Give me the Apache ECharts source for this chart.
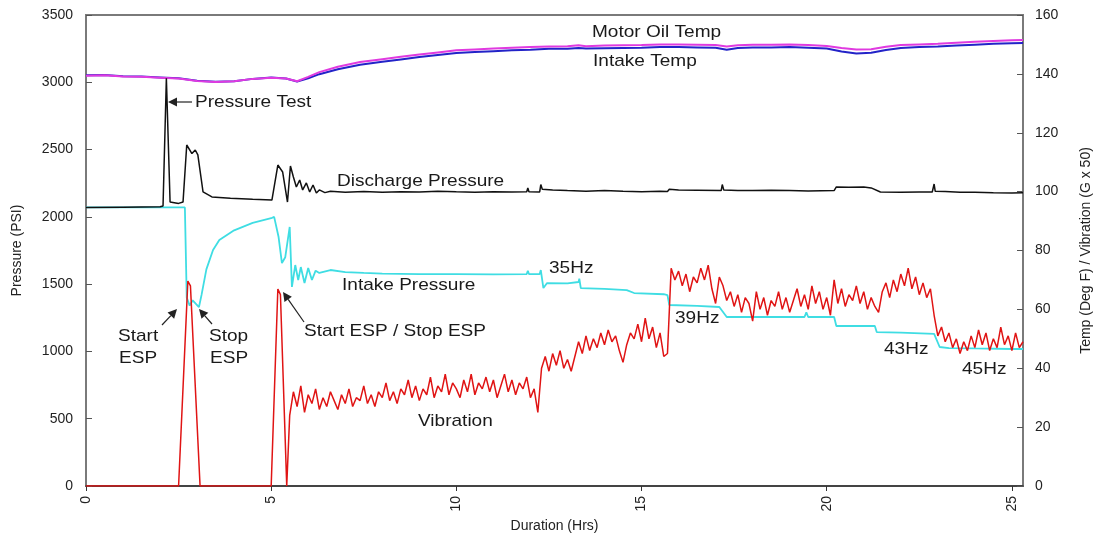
<!DOCTYPE html>
<html><head><meta charset="utf-8">
<script src="https://cdn.jsdelivr.net/npm/echarts@6/dist/echarts.min.js"></script>
<style>html,body{margin:0;padding:0;background:#fff}#c{width:1099px;height:533px}</style>
</head><body><div id="c"></div>
<script>
// ---- data (hours, value) ----
const motorOilTemp = [[0,139.4],[0.5,139.5],[1,139.1],[1.5,139.0],[2,138.7],[2.5,138.4],[3,137.6],[3.5,137.2],[4,137.5],[4.5,138.3],[5,138.7],[5.4,138.4],[5.7,137.5],[6,139.0],[6.3,140.6],[6.8,142.4],[7.4,144.0],[8,145.0],[8.5,145.8],[9,146.6],[9.5,147.3],[10,148.0],[10.5,148.3],[11,148.6],[11.5,148.9],[12,149.1],[12.5,149.3],[13,149.4],[13.3,149.7],[13.5,149.4],[14,149.6],[14.5,149.7],[15,149.8],[15.5,150.0],[16,150.0],[16.5,149.9],[17,149.8],[17.3,149.3],[17.6,149.7],[18,149.9],[18.5,149.9],[19,150.0],[19.5,149.8],[20,149.5],[20.4,148.8],[20.8,148.3],[21.2,148.4],[21.6,149.2],[22,149.8],[22.5,150.0],[23,150.2],[23.5,150.6],[24,150.9],[24.5,151.2],[25,151.4],[25.3,151.5]];
const intakeTemp = [[0,139.5],[0.5,139.6],[1,139.2],[1.5,139.1],[2,138.8],[2.5,138.5],[3,137.7],[3.5,137.3],[4,137.5],[4.5,138.3],[5,138.8],[5.4,138.4],[5.7,137.4],[6,138.5],[6.3,139.9],[6.8,141.6],[7.4,143.1],[8,144.1],[8.5,144.9],[9,145.7],[9.5,146.4],[10,147.1],[10.5,147.4],[11,147.7],[11.5,148.0],[12,148.2],[12.5,148.5],[13,148.5],[13.3,148.8],[13.5,148.6],[14,148.7],[14.5,148.8],[15,148.9],[15.5,149.1],[16,149.1],[16.5,149.0],[17,148.9],[17.3,148.2],[17.6,148.8],[18,149.0],[18.5,149.0],[19,149.1],[19.5,148.9],[20,148.6],[20.4,147.6],[20.8,146.9],[21.2,147.2],[21.6,148.1],[22,148.8],[22.5,149.1],[23,149.3],[23.5,149.6],[24,149.9],[24.5,150.2],[25,150.4],[25.3,150.5]];
const dischargePressure = [[0,2070],[1,2072],[2.0,2075],[2.08,2080],[2.17,3030],[2.27,2110],[2.5,2100],[2.62,2110],[2.72,2534],[2.86,2470],[2.95,2497],[3.02,2460],[3.16,2185],[3.4,2148],[3.9,2138],[4.5,2130],[5.02,2125],[5.18,2385],[5.31,2333],[5.44,2110],[5.52,2378],[5.6,2296],[5.68,2222],[5.77,2274],[5.85,2200],[5.95,2252],[6.04,2185],[6.13,2237],[6.22,2177],[6.3,2200],[6.45,2180],[6.6,2190],[7,2183],[7.5,2188],[8,2182],[8.5,2186],[9,2184],[9.5,2190],[10,2186],[10.5,2183],[11,2187],[11.5,2185],[11.9,2186],[11.93,2215],[11.96,2186],[12.25,2185],[12.28,2240],[12.32,2205],[12.6,2200],[13,2195],[13.5,2190],[14,2195],[14.5,2190],[15,2186],[15.5,2190],[15.7,2188],[15.75,2205],[16,2200],[16.5,2198],[17.15,2195],[17.18,2240],[17.22,2200],[17.6,2195],[18,2195],[18.5,2198],[19,2196],[19.5,2193],[20.2,2195],[20.26,2222],[20.6,2220],[21.0,2222],[21.2,2215],[21.45,2185],[22,2183],[22.5,2185],[22.85,2185],[22.9,2244],[22.93,2190],[23.2,2188],[23.6,2182],[24,2183],[24.5,2180],[25,2178],[25.3,2180]];
const intakePressure = [[0,2070],[2.67,2070],[2.72,1400],[2.8,1340],[2.88,1380],[2.98,1350],[3.05,1330],[3.12,1420],[3.25,1610],[3.43,1754],[3.6,1828],[4.0,1900],[4.5,1955],[5.0,1990],[5.08,2000],[5.2,1850],[5.29,1657],[5.38,1700],[5.5,1925],[5.56,1479],[5.65,1642],[5.73,1531],[5.8,1627],[5.9,1508],[6.0,1620],[6.1,1531],[6.2,1600],[6.3,1583],[6.6,1605],[7,1590],[7.5,1583],[8,1578],[9,1575],[10,1575],[11,1573],[11.9,1575],[11.93,1600],[11.96,1575],[12.25,1575],[12.28,1605],[12.35,1471],[12.45,1508],[13.0,1505],[13.3,1516],[13.32,1540],[13.36,1471],[14,1465],[14.6,1456],[14.8,1434],[15.6,1425],[15.7,1419],[15.75,1345],[16.5,1338],[17.1,1330],[17.3,1256],[18,1256],[19,1256],[19.4,1256],[19.45,1290],[19.5,1256],[20.2,1256],[20.26,1189],[21.3,1189],[21.35,1144],[22.0,1140],[22.9,1130],[23.05,1033],[23.3,1025],[24,1022],[25,1018],[25.3,1018]];
const vibration = [[0,0],[2.5,0],[2.75,69.6],[2.82,68],[3.08,0],[5.0,0],[5.18,66.9],[5.25,65],[5.42,0],
[5.5,24],[5.6,32],[5.7,27],[5.8,34],[5.9,25],[6.0,31],[6.1,28],[6.2,33],[6.3,26],[6.4,30],[6.5,27],[6.6,32],[6.7,29],[6.8,26],[6.9,31],[7.0,28],[7.1,33],[7.2,27],[7.3,30],[7.4,29],[7.5,34],[7.6,28],[7.7,31],[7.8,27],[7.9,32],[8.0,30],[8.1,35],[8.2,29],[8.3,32],[8.4,28],[8.5,33],[8.6,31],[8.7,36],[8.8,30],[8.9,34],[9.0,29],[9.1,33],[9.2,31],[9.3,37],[9.4,30],[9.5,34],[9.6,32],[9.7,38],[9.8,31],[9.9,35],[10.0,33],[10.1,30],[10.2,36],[10.3,32],[10.4,38],[10.5,31],[10.6,35],[10.7,33],[10.8,37],[10.9,32],[11.0,36],[11.1,30],[11.2,34],[11.3,38],[11.4,32],[11.5,36],[11.6,31],[11.7,35],[11.8,33],[11.9,37],[12.0,30],[12.1,33],[12.2,25],
[12.3,40],[12.4,44],[12.5,39],[12.6,45],[12.7,41],[12.8,46],[12.9,40],[13.0,43],[13.1,39],[13.2,44],[13.3,49],[13.4,45],[13.5,51],[13.6,46],[13.7,50],[13.8,47],[13.9,52],[14.0,48],[14.1,53],[14.2,49],[14.3,51],[14.4,46],[14.5,42],[14.6,48],[14.7,52],[14.8,50],[14.9,55],[15.0,49],[15.1,57],[15.2,50],[15.3,54],[15.4,47],[15.5,52],[15.6,44],[15.7,45],
[15.8,74],[15.9,70],[16.0,73],[16.1,68],[16.2,72],[16.3,66],[16.4,71],[16.5,69],[16.6,74],[16.7,70],[16.8,75],[16.9,67],[17.0,62],[17.1,71],[17.2,68],[17.3,63],[17.4,66],[17.5,61],[17.6,65],[17.7,59],[17.8,64],[17.9,62],[18.0,56],[18.1,66],[18.2,60],[18.3,64],[18.4,58],[18.5,63],[18.6,61],[18.7,66],[18.8,60],[18.9,64],[19.0,59],[19.1,63],[19.2,67],[19.3,61],[19.4,65],[19.5,60],[19.6,68],[19.7,62],[19.8,66],[19.9,60],[20.0,64],[20.1,58],[20.2,70],[20.3,62],[20.4,67],[20.5,61],[20.6,65],[20.7,63],[20.8,68],[20.9,62],[21.0,66],[21.1,60],[21.2,64],[21.3,61],[21.4,59],[21.5,66],[21.6,69],[21.7,64],[21.8,70],[21.9,66],[22.0,72],[22.1,68],[22.2,74],[22.3,67],[22.4,71],[22.5,65],[22.6,69],[22.7,64],[22.8,67],[22.9,58],
[23.0,51],[23.1,54],[23.2,49],[23.3,52],[23.4,47],[23.5,50],[23.6,45],[23.7,49],[23.8,46],[23.9,51],[24.0,47],[24.1,53],[24.2,48],[24.3,52],[24.4,46],[24.5,50],[24.6,47],[24.7,54],[24.8,48],[24.9,51],[25.0,46],[25.1,52],[25.2,47],[25.3,49]];

// ---- annotations (label text) ----
const labels = [
  {text:'Motor Oil Temp', x:592, y:32},
  {text:'Intake Temp', x:593, y:61},
  {text:'Pressure Test', x:195, y:102},
  {text:'Discharge Pressure', x:337, y:181},
  {text:'Intake Pressure', x:342, y:285},
  {text:'35Hz', x:549, y:268},
  {text:'39Hz', x:675, y:318},
  {text:'43Hz', x:884, y:349},
  {text:'45Hz', x:962, y:369},
  {text:'Start', x:118, y:336},
  {text:'ESP', x:119, y:358},
  {text:'Stop', x:209, y:336},
  {text:'ESP', x:210, y:358},
  {text:'Start ESP / Stop ESP', x:304, y:331},
  {text:'Vibration', x:418, y:421}
];
const arrows = [
  [192,102,168,102],
  [162,325,177,309],
  [212,324,199,309],
  [304,322,283,292]
];

function arrowEls(a){
  const [x1,y1,x2,y2]=a;
  const dx=x2-x1, dy=y2-y1, L=Math.sqrt(dx*dx+dy*dy), ux=dx/L, uy=dy/L;
  const hl=9, hw=4.5;
  const bx=x2-ux*hl, by=y2-uy*hl;
  return [
    {type:'line', shape:{x1:x1,y1:y1,x2:bx,y2:by}, style:{stroke:'#222', lineWidth:1.2}, z:100},
    {type:'polygon', shape:{points:[[x2,y2],[bx-uy*hw,by+ux*hw],[bx+uy*hw,by-ux*hw]]}, style:{fill:'#222'}, z:100}
  ];
}

const graphics = [];
labels.forEach(l=>graphics.push({type:'text', x:l.x, y:l.y, scaleX:1.12, z:100,
  style:{text:l.text, font:'17px "Liberation Sans", Arial, sans-serif', fill:'#1a1a1a', textVerticalAlign:'middle'}}));
arrows.forEach(a=>arrowEls(a).forEach(e=>graphics.push(e)));

const chart = echarts.init(document.getElementById('c'), null, {renderer:'canvas'});
const axisFont = {fontFamily:'"Liberation Sans", Arial, sans-serif', fontSize:14, color:'#222', formatter:v=>String(v)};
chart.setOption({
  animation:false,
  backgroundColor:'#fff',
  grid:{left:86, right:76, top:15, bottom:47, containLabel:false, outerBoundsMode:'none', show:true, borderColor:'#7a7a7a', borderWidth:2},
  xAxis:{type:'value', min:0, max:25.3, interval:5,
    name:'Duration (Hrs)', nameLocation:'middle', nameGap:30,
    nameTextStyle:{fontFamily:'"Liberation Sans", Arial, sans-serif', fontSize:14, color:'#222'},
    axisLine:{lineStyle:{color:'#333', width:1.5}},
    axisTick:{inside:false, length:5, lineStyle:{color:'#333'}},
    axisLabel:Object.assign({rotate:90, margin:10, showMaxLabel:false}, axisFont),
    splitLine:{show:false}},
  yAxis:[
    {type:'value', min:0, max:3500, interval:500, position:'left',
     name:'Pressure (PSI)', nameLocation:'middle', nameGap:62, nameRotate:90,
     nameTextStyle:{fontFamily:'"Liberation Sans", Arial, sans-serif', fontSize:14, color:'#222'},
     axisLine:{show:true, lineStyle:{color:'#7a7a7a', width:2}},
     axisTick:{show:true, inside:true, length:6, lineStyle:{color:'#555'}},
     axisLabel:Object.assign({margin:13}, axisFont),
     splitLine:{show:false}},
    {type:'value', min:0, max:160, interval:20, position:'right',
     name:'Temp (Deg F) / Vibration (G x 50)', nameLocation:'middle', nameGap:56, nameRotate:90,
     nameTextStyle:{fontFamily:'"Liberation Sans", Arial, sans-serif', fontSize:14, color:'#222'},
     axisLine:{show:true, lineStyle:{color:'#7a7a7a', width:2}},
     axisTick:{show:true, inside:true, length:6, lineStyle:{color:'#555'}},
     axisLabel:Object.assign({margin:12}, axisFont),
     splitLine:{show:false}}
  ],
  series:[
    {name:'Intake Temp', type:'line', yAxisIndex:1, data:intakeTemp, showSymbol:false, lineStyle:{color:'#2323c8', width:2}},
    {name:'Motor Oil Temp', type:'line', yAxisIndex:1, data:motorOilTemp, showSymbol:false, lineStyle:{color:'#e03ae0', width:2}},
    {name:'Intake Pressure', type:'line', yAxisIndex:0, data:intakePressure, showSymbol:false, lineStyle:{color:'#3fdde3', width:1.8}},
    {name:'Discharge Pressure', type:'line', yAxisIndex:0, data:dischargePressure, showSymbol:false, lineStyle:{color:'#111', width:1.5}},
    {name:'Vibration', type:'line', yAxisIndex:1, data:vibration, showSymbol:false, lineStyle:{color:'#e01414', width:1.5}}
  ],
  graphic:graphics
});
</script></body></html>
